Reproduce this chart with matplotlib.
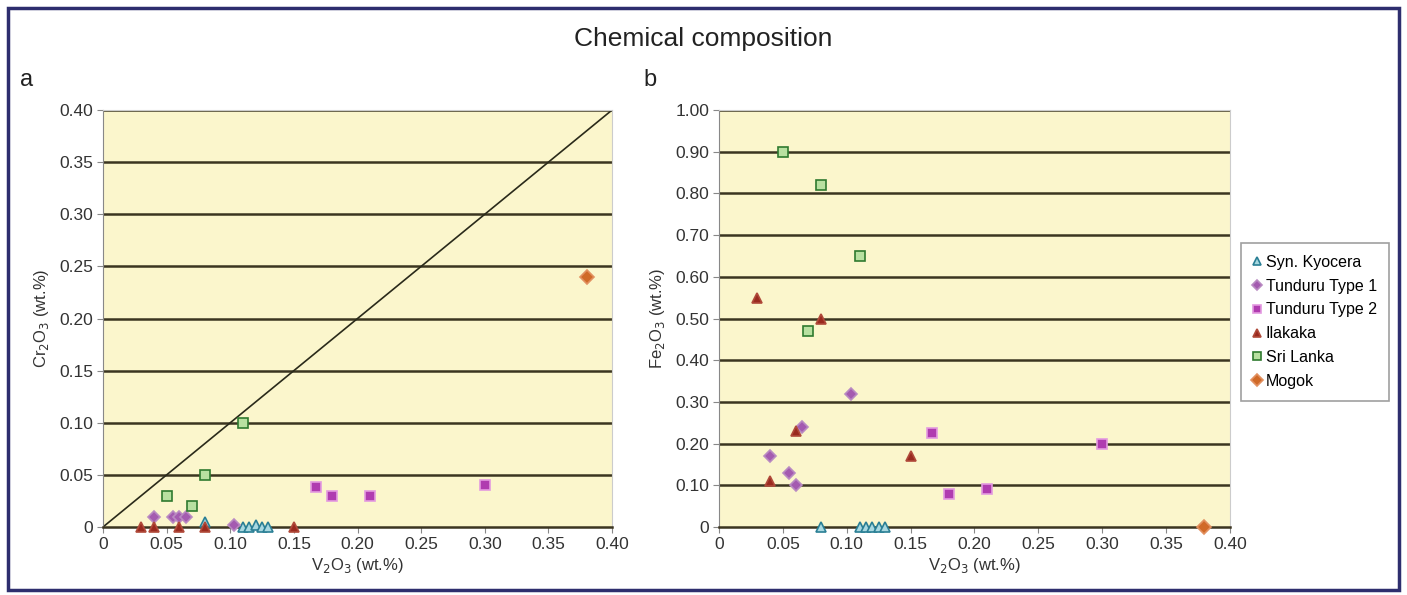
import numpy as np
import matplotlib.pyplot as plt
from matplotlib.patches import Rectangle

# V2O3 / Cr2O3 / Fe2O3 (wt.%)
kyo_v = [0.08, 0.11, 0.115, 0.12, 0.125, 0.13]
kyo_cr = [0.005, 0.0, 0.0, 0.002, 0.0, 0.0]
kyo_fe = [0.0, 0.0, 0.0, 0.0, 0.0, 0.0]

t1_v = [0.04, 0.055, 0.06, 0.065, 0.103]
t1_cr = [0.01, 0.01, 0.01, 0.01, 0.002]
t1_fe = [0.17, 0.13, 0.10, 0.24, 0.32]

t2_v = [0.167, 0.18, 0.21, 0.30]
t2_cr = [0.038, 0.03, 0.03, 0.04]
t2_fe = [0.225, 0.08, 0.09, 0.20]

ila_v = [0.03, 0.04, 0.06, 0.08, 0.15]
ila_cr = [0.0, 0.0, 0.0, 0.0, 0.0]
ila_fe = [0.55, 0.11, 0.23, 0.50, 0.17]

sri_v = [0.05, 0.07, 0.08, 0.11]
sri_cr = [0.03, 0.02, 0.05, 0.10]
sri_fe = [0.90, 0.47, 0.82, 0.65]

mog_v = [0.38]
mog_cr = [0.24]
mog_fe = [0.0]

names = ['Syn. Kyocera', 'Tunduru Type 1', 'Tunduru Type 2', 'Ilakaka', 'Sri Lanka', 'Mogok']
xs = [kyo_v, t1_v, t2_v, ila_v, sri_v, mog_v]
ys_cr = [kyo_cr, t1_cr, t2_cr, ila_cr, sri_cr, mog_cr]
ys_fe = [kyo_fe, t1_fe, t2_fe, ila_fe, sri_fe, mog_fe]

# marker, face, edge
styles = [('^', '#a8d8e0', '#2a7f95'),
          ('D', '#a45bb0', '#b98ac2'),
          ('s', '#b03cb0', '#e39ae0'),
          ('^', '#9a2a1f', '#b04a3a'),
          ('s', '#b8e0a0', '#2f7a2f'),
          ('D', '#d06a28', '#e29060')]
sizes = [6.5, 6.5, 6.5, 7.5, 6.5, 7.5]

plt.rcParams['font.family'] = ['Liberation Sans', 'DejaVu Sans']
fig = plt.figure(figsize=(14.07, 5.95), dpi=100)
fig.patch.set_facecolor('white')

# frame round the whole figure
fig.patches.append(Rectangle((0.006, 0.008), 0.988, 0.978, transform=fig.transFigure,
                             fill=False, edgecolor='#2e2e6e', linewidth=2.5))

fig.text(0.5, 0.935, 'Chemical composition', ha='center', va='center', fontsize=19, color='#222222')
fig.text(0.019, 0.865, 'a', ha='center', va='center', fontsize=17, color='#222222')
fig.text(0.462, 0.865, 'b', ha='center', va='center', fontsize=17, color='#222222')

ax1 = fig.add_axes([0.0732, 0.1143, 0.3618, 0.7008])
ax2 = fig.add_axes([0.511, 0.1143, 0.3632, 0.7008])

def setup(ax, ymax, ystep, ylabel):
    ax.set_facecolor('#fbf6cc')
    ax.set_xlim(0, 0.40)
    ax.set_ylim(0, ymax)
    xt = np.arange(0, 0.401, 0.05)
    ax.set_xticks(xt)
    ax.set_xticklabels(['0'] + ['%.2f' % v for v in xt[1:]])
    yt = np.arange(0, ymax + 1e-9, ystep)
    ax.set_yticks(yt)
    ax.set_yticklabels(['0'] + ['%.2f' % v for v in yt[1:]])
    ax.tick_params(labelsize=12.5, colors='#333333', length=4, color='#888888', pad=3)
    for yv in yt[1:]:
        ax.axhline(yv, color='#3b3520', lw=1.8, zorder=1)
    for s in ['top', 'right']:
        ax.spines[s].set_color('#cccccc')
    ax.spines['left'].set_color('#888888')
    ax.spines['bottom'].set_color('#3b3520')
    ax.spines['bottom'].set_linewidth(1.8)
    ax.set_xlabel('V$_2$O$_3$ (wt.%)', fontsize=12, color='#333333', labelpad=3)
    ax.set_ylabel(ylabel, fontsize=12, color='#333333', labelpad=6)

setup(ax1, 0.40, 0.05, 'Cr$_2$O$_3$ (wt.%)')
setup(ax2, 1.00, 0.10, 'Fe$_2$O$_3$ (wt.%)')

ax1.plot([0, 0.40], [0, 0.40], color='#2a2a1a', lw=1.2, zorder=2)

for i in range(len(names)):
    m, fc, ec = styles[i]
    ax1.plot(xs[i], ys_cr[i], ls='none', marker=m, ms=sizes[i], mfc=fc, mec=ec,
             mew=1.2, zorder=3, clip_on=False)
    ax2.plot(xs[i], ys_fe[i], ls='none', marker=m, ms=sizes[i], mfc=fc, mec=ec,
             mew=1.2, zorder=3, clip_on=False, label=names[i])

handles, labels = ax2.get_legend_handles_labels()
leg = fig.legend(handles, labels, loc='upper left', bbox_to_anchor=(0.882, 0.592),
                 fontsize=11.5, frameon=True, fancybox=False, handlelength=0.5,
                 handletextpad=0.3, borderpad=0.75, labelspacing=0.55, markerscale=0.8,
                 borderaxespad=0.0)
leg.get_frame().set_edgecolor('#888888')
leg.get_frame().set_linewidth(1.2)

fig.savefig('out.png', dpi=100)
